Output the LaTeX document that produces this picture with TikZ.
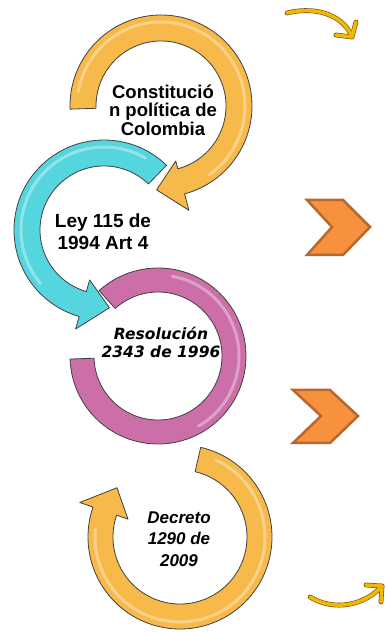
\documentclass[tikz,border=0pt]{standalone}
\usepackage{fontspec}
\setmainfont{Liberation Sans}
\newfontfamily\dejavu{DejaVu Sans}
\usepackage{tikz}

\definecolor{ringgold}{HTML}{F6B94A}
\definecolor{ringcyan}{HTML}{55D6DF}
\definecolor{ringpink}{HTML}{CC6EA8}
\definecolor{chevfill}{HTML}{F7913D}
\definecolor{chevline}{HTML}{B8672E}
\definecolor{curlgold}{HTML}{F2B705}

\begin{document}
\begin{tikzpicture}[x=1pt,y=1pt,line join=round]
\tikzstyle{ring}=[draw=black!75,line width=0.8pt]
\tikzstyle{gloss}=[white,opacity=0.35,line width=3pt,line cap=round]
\tikzstyle{chev}=[fill=chevfill,draw=chevline,line width=2.5pt,line join=miter]
\tikzstyle{curl}=[line width=3.6pt,draw=curlgold,line cap=round]
\tikzstyle{curledge}=[line width=4.8pt,draw=black!55!curlgold,line cap=round]
\tikzstyle{txt}=[font=\bfseries\fontsize{18.5}{18.5}\selectfont,align=center,inner sep=0pt]

\useasboundingbox (0,0) rectangle (386,632);

% pink ring
\begin{scope}[shift={(158,276)}]
  \filldraw[ring,fill=ringpink] (132:88) arc[start angle=132,end angle=-178,radius=88]
    -- (-178:64) arc[start angle=-178,end angle=132,radius=64] -- cycle;
  \draw[gloss] (80:81) arc[start angle=80,end angle=-60,radius=81];
\end{scope}

% cyan arrow
\begin{scope}[shift={(104,402)}]
  \filldraw[ring,fill=ringcyan] (46:90) arc[start angle=46,end angle=254,radius=90]
    -- (254:103) -- (274:78) -- (254:52) -- (254:64)
    arc[start angle=254,end angle=46,radius=64] -- cycle;
  \draw[gloss] (60:83) arc[start angle=60,end angle=220,radius=83];
\end{scope}

% top gold arrow
\begin{scope}[shift={(161,526)}]
  \filldraw[ring,fill=ringgold] (182:91) arc[start angle=182,end angle=-75,radius=91]
    -- (-75:108) -- (-93:84) -- (-75:57) -- (-75:65)
    arc[start angle=-75,end angle=182,radius=65] -- cycle;
  \draw[gloss] (170:84) arc[start angle=170,end angle=-55,radius=84];
\end{scope}

% bottom gold arrow
\begin{scope}[shift={(180,95)}]
  \filldraw[ring,fill=ringgold] (77:92) arc[start angle=77,end angle=-199,radius=92]
    -- (-199:106) -- (-218:80) -- (-199:55) -- (-199:67)
    arc[start angle=-199,end angle=77,radius=67] -- cycle;
  \draw[gloss] (65:85) arc[start angle=65,end angle=-185,radius=85];
\end{scope}

% chevrons
\draw[chev] (307,432) -- (343,432) -- (370,405) -- (343,377) -- (307,377) -- (332,405) -- cycle;
\draw[chev] (293,242) -- (330,242) -- (358,216) -- (330,189) -- (293,189) -- (321,216) -- cycle;

% small curved arrows
\coordinate (a0) at (287,619);
\coordinate (a1) at (352,595);
\coordinate (a2) at (356,610);
\coordinate (a3) at (336,597);
\coordinate (b0) at (310,35);
\coordinate (b1) at (382,46);
\coordinate (b2) at (366,47);
\coordinate (b3) at (381,30);
\foreach \s in {curledge,curl} {
  \draw[\s] (a0) .. controls (320,627) and (345,614) .. (a1);
  \draw[\s] (a2) -- (a1) -- (a3);
  \draw[\s] (b0) .. controls (335,20) and (365,27) .. (b1);
  \draw[\s] (b2) -- (b1) -- (b3);
}

% texts
\node[txt] (0) at (163,522) {Constitució\\n política de\\Colombia};
\node[txt,font=\bfseries\fontsize{19}{22}\selectfont] (1) at (103,400) {Ley 115 de\\1994 Art 4};
\node[txt,font=\dejavu\bfseries\itshape\fontsize{15.5}{18}\selectfont] (2) at (161,290) {Resolución\\2343 de 1996};
\node[txt,font=\bfseries\itshape\fontsize{17}{21.5}\selectfont] (3) at (179,93) {Decreto\\1290 de\\2009};
\end{tikzpicture}
\end{document}
